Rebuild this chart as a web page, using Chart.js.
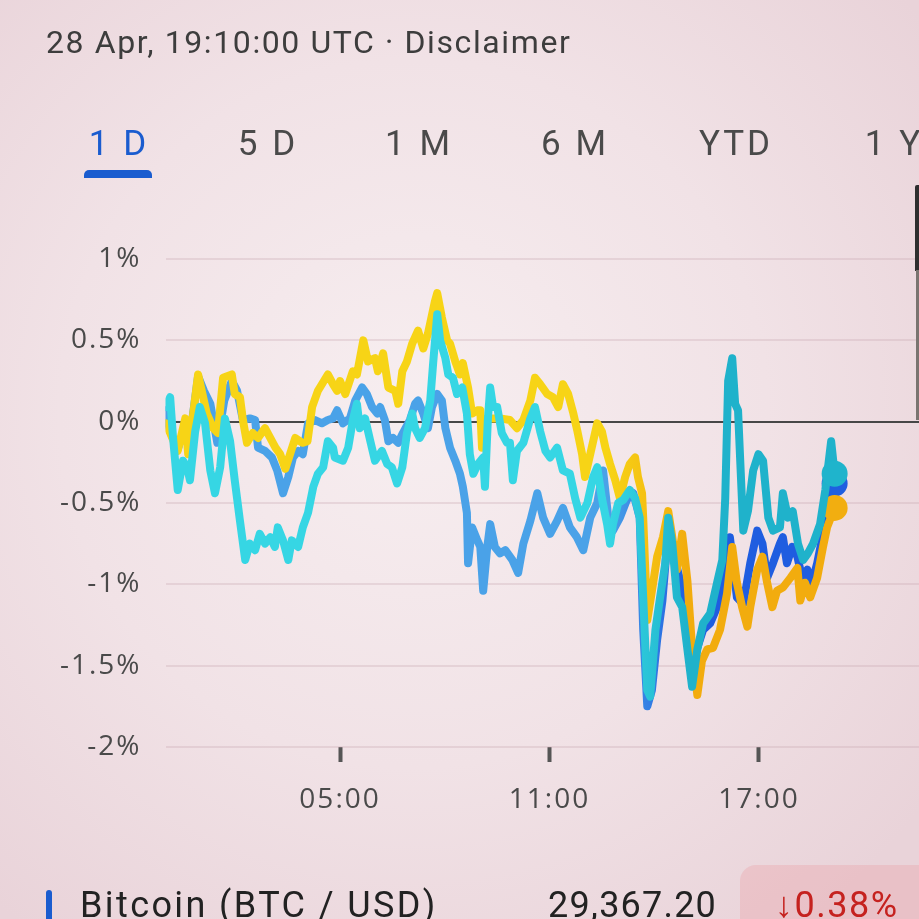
<!DOCTYPE html>
<html>
<head>
<meta charset="utf-8">
<script src="https://cdn.jsdelivr.net/npm/chart.js@4.4.1/dist/chart.umd.min.js"></script>
<style>
  html, body { margin: 0; padding: 0; }
  body {
    width: 919px; height: 919px; overflow: hidden; position: relative;
    font-family: Roboto, "Noto Sans", sans-serif;
    background: radial-gradient(ellipse 70% 70% at 45% 45%, #f7eef0 0%, #f1e2e6 55%, #e9d3d9 100%);
  }
  #chart { position: absolute; left: 0; top: 0; }
  .t { position: absolute; white-space: nowrap; }
  #stamp { left: 46px; top: 22px; font-size: 32px; line-height: 40px; color: #3d3d3d; letter-spacing: 1.6px; }
  .tab { top: 122px; font-size: 35px; line-height: 44px; color: #4a4a4a; letter-spacing: 3px; transform: translateX(-50%); }
  .tab.on { color: #1a5ccf; }
  #underline { position: absolute; left: 84px; top: 170px; width: 68px; height: 8px; background: #1a5ccf; border-radius: 5px 5px 0 0; }
  #edge1 { position: absolute; left: 915px; top: 185px; width: 4px; height: 86px; background: #2e2e2e; border-radius: 2px 0 0 0; }
  #edge2 { position: absolute; left: 916px; top: 270px; width: 3px; height: 150px; background: #7a7470; }
  #legendBar { position: absolute; left: 46px; top: 890px; width: 6px; height: 40px; background: #1a5ccf; border-radius: 3px; }
  #legendName { left: 80px; top: 883px; font-size: 36px; line-height: 44px; color: #222; letter-spacing: 2.4px; }
  #legendPrice { left: 548px; top: 883px; font-size: 36px; line-height: 44px; color: #222; letter-spacing: 1.2px; }
  #badge { position: absolute; left: 740px; top: 865px; width: 200px; height: 80px; background: rgba(235, 160, 165, 0.35); border-radius: 16px; }
  #badgeText { left: 775px; top: 883px; font-size: 36px; line-height: 44px; color: #c5221f; letter-spacing: 1.5px; }
</style>
</head>
<body>
<canvas id="chart" width="919" height="919"></canvas>

<div class="t" id="stamp">28 Apr, 19:10:00 UTC · Disclaimer</div>
<div class="t tab on" style="left:119px">1 D</div>
<div class="t tab" style="left:268px">5 D</div>
<div class="t tab" style="left:419px">1 M</div>
<div class="t tab" style="left:575px">6 M</div>
<div class="t tab" style="left:736px">YTD</div>
<div class="t tab" style="left:894px">1 Y</div>
<div id="underline"></div>
<div id="edge1"></div>
<div id="edge2"></div>

<div id="legendBar"></div>
<div class="t" id="legendName">Bitcoin (BTC / USD)</div>
<div class="t" id="legendPrice">29,367.20</div>
<div id="badge"></div>
<div class="t" id="badgeText">↓0.38%</div>

<script>
// minutes since 00:00 UTC, values in % change
const tealTimes = [0,8,13,21,30,37,42,51,59,68,77,85,94,102,111,119,128,137,145,154,
  162,171,180,188,193,202,211,217,228,236,245,254,262,271,279,288,291,305,314,322,
  329,334,343,352,360,372,381,389,398,407,415,424,429,437,446,455,460,467,472,481,
  486,494,501,510,518,523,529,537,546,549,554,558,563,570,578,587,592,597,604,615,
  627,635,644,653,661,673,683,695,704,713,725,735,742,750,759,764,769,778,787,798,
  807,815,821,828,833,842,850,859,864,871,879,888,897,905,914,924,936,948,957,962,
  967,974,979,984,988,993,1001,1010,1019,1027,1036,1044,1056,1061,1070,1078,1087,1096,1104,1113,
  1125,1134,1144,1150];
const tealValues = [0.09,0.15,-0.10,-0.42,-0.24,-0.28,-0.36,-0.06,0.09,-0.01,-0.30,-0.44,-0.28,0.02,-0.12,-0.36,-0.61,-0.85,-0.75,-0.79,
  -0.69,-0.75,-0.71,-0.77,-0.65,-0.73,-0.85,-0.73,-0.77,-0.65,-0.56,-0.40,-0.32,-0.28,-0.12,-0.16,-0.22,-0.24,-0.16,0.01,
  0.11,-0.04,0.02,-0.12,-0.24,-0.18,-0.26,-0.28,-0.38,-0.28,-0.07,0.05,-0.04,-0.10,-0.04,0.13,0.36,0.66,0.50,0.39,
  0.29,0.27,0.17,0.21,0.05,-0.20,-0.32,-0.26,-0.22,-0.40,0.01,0.21,0.09,0.09,-0.07,-0.13,-0.13,-0.36,-0.18,-0.13,
  0.02,0.09,-0.06,-0.18,-0.22,-0.16,-0.30,-0.32,-0.47,-0.59,-0.50,-0.34,-0.28,-0.47,-0.63,-0.75,-0.63,-0.50,-0.48,-0.42,
  -0.47,-0.59,-1.08,-1.65,-1.69,-1.28,-1.08,-0.87,-0.59,-0.75,-1.08,-1.14,-1.40,-1.63,-1.40,-1.24,-1.18,-0.99,-0.85,-0.47,
  0.25,0.39,0.11,0.07,-0.26,-0.67,-0.55,-0.30,-0.20,-0.24,-0.59,-0.67,-0.65,-0.44,-0.59,-0.55,-0.75,-0.85,-0.81,-0.75,
  -0.63,-0.42,-0.12,-0.32];

const amberTimes = [0,8,21,34,39,56,71,82,90,99,114,119,128,133,140,150,159,171,180,189,
  197,206,214,223,235,244,252,262,279,288,295,300,309,322,329,340,348,360,365,374,
  383,395,400,407,415,424,434,443,451,463,467,475,484,489,498,506,511,520,527,536,
  541,544,553,575,592,604,615,627,635,644,656,666,675,683,692,701,708,716,721,730,
  742,750,756,764,773,781,790,798,807,812,819,821,828,836,845,855,864,871,879,888,
  897,905,914,922,931,941,953,965,974,982,991,1000,1005,1017,1026,1034,1043,1051,1061,1074,
  1086,1091,1099,1108,1120,1130,1137,1150];
const amberValues = [-0.01,-0.07,-0.18,0.02,-0.20,0.29,0.05,-0.04,-0.07,0.27,0.29,0.17,0.15,0.01,-0.13,-0.07,-0.10,-0.04,-0.10,-0.16,
  -0.20,-0.29,-0.20,-0.10,-0.13,-0.12,0.09,0.19,0.29,0.23,0.19,0.25,0.17,0.31,0.29,0.50,0.37,0.39,0.31,0.42,
  0.21,0.19,0.11,0.31,0.37,0.48,0.56,0.45,0.54,0.74,0.79,0.64,0.50,0.48,0.37,0.29,0.36,0.21,0.05,0.07,
  0.07,-0.16,0.02,0.02,0.01,-0.04,0.01,0.13,0.27,0.23,0.17,0.15,0.09,0.23,0.17,0.05,-0.06,-0.20,-0.34,-0.20,
  -0.01,-0.06,-0.16,-0.26,-0.36,-0.47,-0.34,-0.26,-0.22,-0.34,-0.44,-0.59,-1.22,-1.04,-0.83,-0.71,-0.55,-0.71,-0.91,-0.69,
  -0.98,-1.39,-1.68,-1.47,-1.40,-1.39,-1.28,-1.06,-0.77,-0.99,-1.14,-1.26,-1.14,-0.91,-0.83,-0.99,-1.14,-1.04,-1.02,-0.96,
  -0.90,-1.10,-0.99,-1.08,-0.96,-0.77,-0.65,-0.53];

const btcTimes = [0,8,21,34,40,56,66,77,89,101,114,123,133,145,154,159,171,183,192,202,
  211,219,228,236,245,257,269,279,288,295,305,317,326,338,346,355,364,369,377,383,
  391,400,408,420,429,434,443,451,458,467,475,481,489,498,506,511,518,520,527,536,
  541,546,553,558,566,575,584,596,606,615,627,639,649,661,673,683,695,707,718,730,
  742,752,761,769,781,793,804,815,821,828,836,845,854,864,871,885,895,905,914,924,
  936,948,959,970,982,993,1005,1017,1026,1034,1044,1056,1061,1068,1077,1086,1094,1103,1111,1120,
  1129,1137,1150];
const btcValues = [0.07,-0.06,-0.17,-0.02,-0.15,0.28,0.19,0.11,-0.13,0.13,0.25,0.19,0.01,0.02,0.01,-0.16,-0.18,-0.22,-0.30,-0.44,
  -0.34,-0.22,-0.18,-0.20,-0.01,0.01,-0.01,0.01,0.02,0.07,-0.01,0.02,0.13,0.21,0.17,0.09,0.05,0.09,0.01,-0.12,
  -0.10,-0.13,-0.07,0.01,0.11,0.13,0.05,-0.04,0.09,0.17,0.13,-0.04,-0.16,-0.24,-0.32,-0.40,-0.56,-0.87,-0.65,-0.73,
  -0.77,-1.04,-0.77,-0.63,-0.77,-0.81,-0.79,-0.85,-0.93,-0.75,-0.61,-0.44,-0.59,-0.69,-0.61,-0.53,-0.65,-0.71,-0.79,-0.59,
  -0.50,-0.30,-0.59,-0.67,-0.59,-0.48,-0.44,-0.59,-1.28,-1.75,-1.65,-1.34,-1.10,-0.67,-0.79,-0.98,-1.28,-1.53,-1.39,-1.28,
  -1.24,-1.14,-0.99,-0.71,-1.08,-1.12,-0.87,-0.67,-0.75,-0.96,-0.87,-0.75,-0.71,-0.87,-0.77,-0.83,-0.96,-0.91,-0.99,-0.87,
  -0.71,-0.50,-0.38];

const xTickValues = [300, 660, 1020];
const xTickLabels = ["05:00", "11:00", "17:00"];
const yTickLabels = { "1": "1%", "0.5": "0.5%", "0": "0%", "-0.5": "-0.5%", "-1": "-1%", "-1.5": "-1.5%", "-2": "-2%" };

const toPoints = (times, values) => times.map((t, i) => ({ x: t, y: values[i] }));

// the screenshot's colours shift from light (left) to deeper (right) around 11-13h
function sweep(left, right) {
  return (context) => {
    const area = context.chart.chartArea;
    if (!area) return right;
    const g = context.chart.ctx.createLinearGradient(area.left, 0, 835, 0);
    g.addColorStop(0, left);
    g.addColorStop(0.66, left);
    g.addColorStop(0.78, right);
    g.addColorStop(1, right);
    return g;
  };
}

function series(times, values, left, right, dot) {
  const last = times.length - 1;
  return {
    data: toPoints(times, values),
    borderColor: sweep(left, right),
    borderWidth: 8,
    borderJoinStyle: "round",
    borderCapStyle: "round",
    tension: 0,
    pointRadius: (c) => (c.dataIndex === last ? 13 : 0),
    pointBackgroundColor: dot,
    pointBorderWidth: 0,
    pointHoverRadius: 0,
  };
}

const spacing = {
  id: "spacing",
  beforeUpdate: (chart) => { chart.ctx.letterSpacing = "2px"; },
  beforeDraw: (chart) => { chart.ctx.letterSpacing = "2px"; },
};

const ctx = document.getElementById("chart").getContext("2d");

new Chart(ctx, {
  type: "line",
  data: {
    datasets: [
      series(tealTimes, tealValues, "#36d6e4", "#1fb2cb", "#1fb4cc"),
      series(amberTimes, amberValues, "#f7d416", "#f2ac0e", "#f2ae10"),
      series(btcTimes, btcValues, "#4aa2e8", "#1f5de0", "#1e5fe0"),
    ],
  },
  plugins: [spacing],
  options: {
    responsive: false,
    animation: false,
    devicePixelRatio: 1,
    layout: { autoPadding: false, padding: { top: 259, right: 0, bottom: 0, left: 0 } },
    plugins: { legend: { display: false }, tooltip: { enabled: false } },
    scales: {
      x: {
        type: "linear",
        min: 0,
        max: 1295,
        afterFit: (scale) => { scale.height = 172; },
        afterBuildTicks: (scale) => { scale.ticks = xTickValues.map((v) => ({ value: v })); },
        border: { display: false },
        grid: {
          drawOnChartArea: false,
          drawTicks: true,
          tickLength: 15,
          tickWidth: 4,
          tickColor: "#555",
        },
        ticks: {
          autoSkip: false,
          maxRotation: 0,
          padding: 21,
          color: "#4a4a4a",
          font: { family: "Open Sans", size: 28 },
          callback: (v) => xTickLabels[xTickValues.indexOf(v)],
        },
      },
      y: {
        min: -2,
        max: 1,
        afterFit: (scale) => { scale.width = 165.5; },
        border: { display: false },
        grid: {
          drawTicks: false,
          color: (c) => (c.tick && c.tick.value === 0 ? "#474747" : "rgba(200, 165, 175, 0.3)"),
          lineWidth: 2,
        },
        ticks: {
          stepSize: 0.5,
          padding: 24,
          color: "#4a4a4a",
          font: { family: "Open Sans", size: 28 },
          callback: (v) => yTickLabels[String(v)],
        },
      },
    },
  },
});
</script>
</body>
</html>
